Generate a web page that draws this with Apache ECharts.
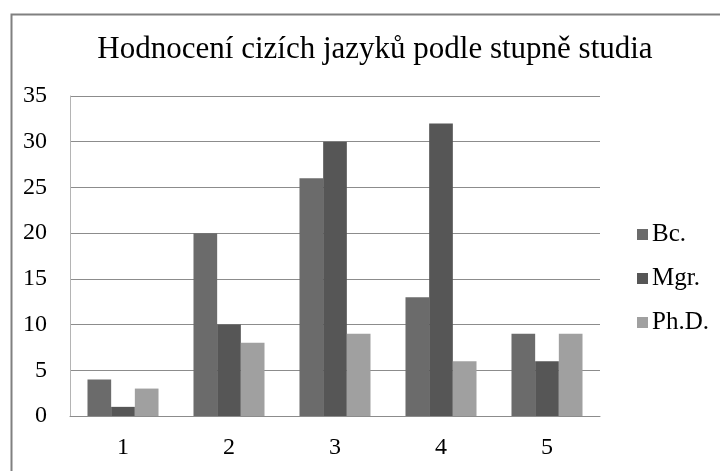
<!DOCTYPE html>
<html>
<head>
<meta charset="utf-8">
<script src="https://cdn.jsdelivr.net/npm/echarts@6/dist/echarts.min.js"></script>
<style>
html,body{margin:0;padding:0;background:#fff;}
#chart{width:720px;height:471px;}
</style>
</head>
<body>
<div id="chart"></div>
<script>
const titleText = 'Hodnocení cizích jazyků podle stupně studia';
const categories = ['1', '2', '3', '4', '5'];
const seriesNames = ['Bc.', 'Mgr.', 'Ph.D.'];
const bcValues = [4, 20, 26, 13, 9];
const mgrValues = [1, 10, 30, 32, 6];
const phdValues = [3, 8, 9, 6, 9];
const yTicks = [0, 5, 10, 15, 20, 25, 30, 35];
const colors = ['#6b6b6b', '#565656', '#a0a0a0'];
const FONT = "'Liberation Serif', 'Times New Roman', serif";

const chart = echarts.init(document.getElementById('chart'), null, {renderer: 'canvas'});
const valueSets = [bcValues, mgrValues, phdValues];
chart.setOption({
  animation: false,
  backgroundColor: '#ffffff',
  textStyle: {fontFamily: FONT},
  title: {
    text: titleText,
    left: 370, top: 29, textAlign: 'center',
    textStyle: {fontFamily: FONT, fontSize: 31, fontWeight: 'normal', color: '#000'}
  },
  graphic: [{
    type: 'rect', left: 9, top: 12, silent: true,
    shape: {width: 800, height: 600},
    style: {fill: 'none', stroke: '#808080', lineWidth: 2}
  }],
  legend: {
    orient: 'vertical', left: 632, top: 217,
    itemWidth: 11, itemHeight: 11, itemGap: 19,
    icon: 'rect',
    textStyle: {fontFamily: FONT, fontSize: 25, color: '#000', padding: [0, 0, 0, -1]},
    data: seriesNames
  },
  grid: {left: 70, right: 120, top: 96, bottom: 55, containLabel: false},
  xAxis: {
    type: 'category', data: categories,
    axisTick: {show: false},
    axisLine: {lineStyle: {color: '#8c8c8c', width: 1}},
    axisLabel: {fontFamily: FONT, fontSize: 24, color: '#000', margin: 20}
  },
  yAxis: {
    type: 'value', min: yTicks[0], max: yTicks[yTicks.length - 1], interval: 5,
    axisLine: {show: true, lineStyle: {color: '#b4b4b4', width: 1}},
    axisTick: {show: false},
    splitLine: {lineStyle: {color: '#8c8c8c', width: 1}},
    axisLabel: {fontFamily: FONT, fontSize: 24, color: '#000', margin: 23}
  },
  series: seriesNames.map((n, i) => ({
    name: n, type: 'bar', data: valueSets[i],
    barGap: '0%', barCategoryGap: '33%',
    itemStyle: {color: colors[i]}
  }))
});
</script>
</body>
</html>
